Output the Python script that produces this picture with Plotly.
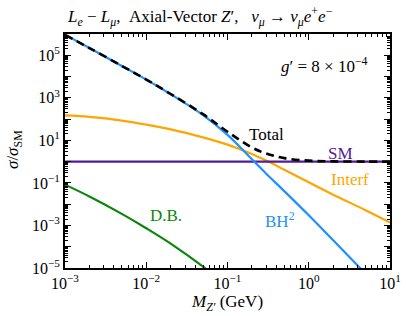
import plotly.graph_objects as go

# Data (Z' mass in GeV, ratio sigma/sigma_SM)
mass = [1e-3, 2e-3, 5e-3, 1e-2, 2e-2, 5e-2, 0.1, 0.2, 0.3, 0.5, 1.0, 2.0, 5.0, 10.0]
bh2 = [9.1e5, 2.19e5, 3.16e4, 7.2e3, 1.48e3, 155, 18.2, 1.29, 0.27, 0.041, 0.0030, 2.0e-4, 5.4e-6, 3.5e-7]
interf = [148, 126, 85, 55, 33, 13.8, 6.3, 2.29, 1.12, 0.417, 0.107, 0.028, 0.0052, 0.00138]
sm = [1.0] * len(mass)
db_mass = [1e-3, 2e-3, 5e-3, 1e-2, 2e-2, 5e-2, 0.1]
db = [0.083, 0.023, 0.0035, 7.4e-4, 1.4e-4, 1.15e-5, 1.3e-6]
total = [9.1e5, 2.19e5, 3.17e4, 7.25e3, 1.51e3, 170, 25.5, 4.6, 2.4, 1.46, 1.11, 1.03, 1.005, 1.0]

xticks = [1e-3, 1e-2, 1e-1, 1e0, 1e1]
xticklabels = ["10<sup>−3</sup>", "10<sup>−2</sup>", "10<sup>−1</sup>", "10<sup>0</sup>", "10<sup>1</sup>"]
yticks = [1e-5, 1e-4, 1e-3, 1e-2, 1e-1, 1e0, 1e1, 1e2, 1e3, 1e4, 1e5, 1e6]
yticklabels = ["10<sup>−5</sup>", "", "10<sup>−3</sup>", "", "10<sup>−1</sup>", "",
               "10<sup>1</sup>", "", "10<sup>3</sup>", "", "10<sup>5</sup>", ""]

BLUE = "#1e90ff"
ORANGE = "#ffa500"
PURPLE = "#531a9a"
GREEN = "#0a860a"
FONT = "Liberation Serif"

L, R, T, B = 65, 16, 34, 48
W, H = 406, 316

fig = go.Figure()
fig.add_trace(go.Scatter(x=db_mass, y=db, mode="lines", line=dict(color=GREEN, width=2.2, shape="spline")))
fig.add_trace(go.Scatter(x=mass, y=interf, mode="lines", line=dict(color=ORANGE, width=2.2, shape="spline")))
fig.add_trace(go.Scatter(x=mass, y=sm, mode="lines", line=dict(color=PURPLE, width=2.2)))
fig.add_trace(go.Scatter(x=mass, y=bh2, mode="lines", line=dict(color=BLUE, width=2.2, shape="spline")))
fig.add_trace(go.Scatter(x=mass, y=total, mode="lines",
                         line=dict(color="black", width=2.6, dash="8px,5px", shape="spline")))

def minor_vals(lo, hi):
    vals = []
    for e in range(lo, hi):
        for m in range(2, 10):
            vals.append(m * 10.0 ** e)
    return vals

axis_common = dict(
    type="log", showgrid=False, zeroline=False, automargin=False,
    showline=True, linecolor="black", linewidth=2, mirror="ticks",
    ticks="inside", ticklen=6, tickwidth=1, tickcolor="black",
    tickfont=dict(family=FONT, size=16, color="black"),
)

fig.update_xaxes(**axis_common, range=[-3, 1], tickvals=xticks, ticktext=xticklabels,
                 minor=dict(tickvals=minor_vals(-3, 1), ticks="inside", ticklen=3,
                            tickwidth=1, tickcolor="black"))
fig.update_yaxes(**axis_common, range=[-5, 6], tickvals=yticks, ticktext=yticklabels,
                 minor=dict(tickvals=minor_vals(-5, 6), ticks="inside", ticklen=3,
                            tickwidth=1, tickcolor="black"))

def label(text, x, y, color, size=17, xanchor="center"):
    fig.add_annotation(text=text, x=x, y=y, xref="x", yref="y", showarrow=False,
                       xanchor=xanchor, yanchor="middle",
                       font=dict(family=FONT, size=size, color=color))

label("Total", -0.526, 1.26, "black")
label("SM", 0.385, 0.39, PURPLE)
label("Interf", 0.508, -0.86, ORANGE)
label("BH<sup>2</sup>", -0.354, -2.74, BLUE)
label("D.B.", -1.751, -2.51, GREEN)
label("<i>g</i>′ = 8 × 10<sup>−4</sup>", 0.188, 4.55, "black")

pw, ph = W - L - R, H - T - B
def px_to_paper(px, py):
    return (px - L) / pw, (H - B - py) / ph

def paper_text(text, px, py, angle=0):
    p = px_to_paper(px, py)
    fig.add_annotation(text=text, x=p[0], y=p[1], xref="paper", yref="paper", showarrow=False,
                       xanchor="center", yanchor="middle", textangle=angle,
                       font=dict(family=FONT, size=17, color="black"))

paper_text("<i>L<sub>e</sub></i> − <i>L<sub>μ</sub></i>,  Axial-Vector <i>Z</i>′,   "
           "<i>ν<sub>μ</sub></i> → <i>ν<sub>μ</sub>e</i><sup>+</sup><i>e</i><sup>−</sup>", 200, 16)
paper_text("<i>M<sub>Z′</sub></i> (GeV)", 227, 303)
paper_text("<i>σ</i>/<i>σ</i><sub>SM</sub>", 14, 150, angle=-90)

fig.update_layout(
    width=W, height=H,
    margin=dict(l=L, r=R, t=T, b=B),
    paper_bgcolor="white", plot_bgcolor="white",
    showlegend=False,
    font=dict(family=FONT, color="black"),
)

fig.write_html("out.html", config={"displayModeBar": False},
               post_script="document.body.style.margin='0px';")
